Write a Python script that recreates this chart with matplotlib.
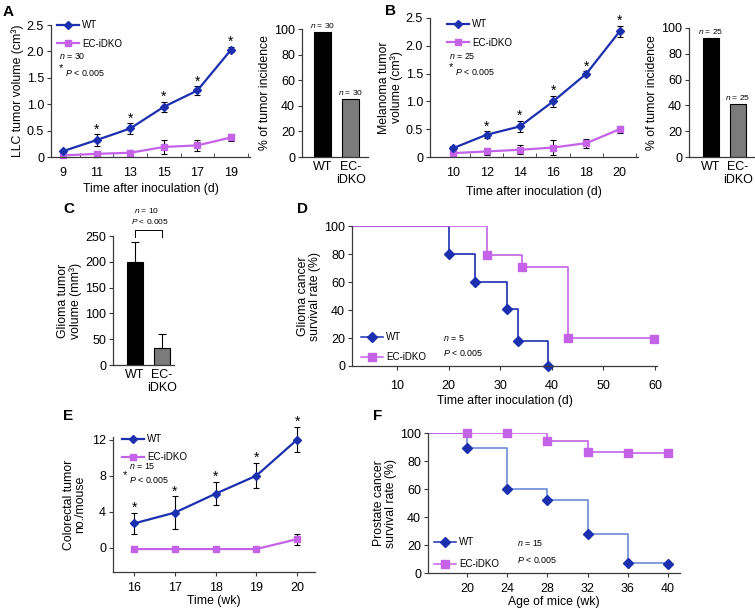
import matplotlib

matplotlib.use("Agg")
import matplotlib.pyplot as plt

plt.rcParams["font.family"] = ["Liberation Sans", "DejaVu Sans"]
plt.rcParams["mathtext.fontset"] = "custom"
plt.rcParams["mathtext.it"] = "Liberation Sans:italic"
plt.rcParams["mathtext.rm"] = "Liberation Sans"

W, H = 755, 614
WT_BLUE = "#1c2fae"
WT_LIGHT = "#6d8bd6"
EC_PINK = "#c463e8"
BAR_GRAY = "#7b7b7b"
AX_COLOR = "#3a3a3a"
TICK_FS = 9
LABEL_FS = 8.8
LEG_FS = 7
NOTE_FS = 6.4

# ---- data ----
groups = ["WT", "EC-\niDKO"]

llc_days = [9, 11, 13, 15, 17, 19]
llc_wt = [0.11, 0.32, 0.54, 0.95, 1.26, 2.03]
llc_wt_err = [0.03, 0.11, 0.10, 0.10, 0.08, 0.05]
llc_ko = [0.03, 0.06, 0.08, 0.19, 0.22, 0.37]
llc_ko_err = [0.02, 0.04, 0.06, 0.13, 0.10, 0.07]
llc_incidence = [98, 45]
llc_n = 30

mel_days = [10, 12, 14, 16, 18, 20]
mel_wt = [0.16, 0.40, 0.55, 1.00, 1.50, 2.26]
mel_wt_err = [0.04, 0.06, 0.10, 0.10, 0.04, 0.10]
mel_ko = [0.07, 0.10, 0.13, 0.17, 0.25, 0.50]
mel_ko_err = [0.04, 0.07, 0.08, 0.13, 0.08, 0.06]
mel_incidence = [92, 41]
mel_n = 25

glioma_volume = [200, 33]
glioma_err = [38, 28]

glioma_wt_t = [0, 20, 25.1, 31.3, 33.5, 39.3]
glioma_wt_s = [100, 80, 60, 41, 18, 0]
glioma_ko_t = [0, 27.5, 34.3, 43.2, 59.8]
glioma_ko_s = [100, 79, 71, 20, 19]

crc_weeks = [16, 17, 18, 19, 20]
crc_wt = [2.7, 3.9, 6.0, 8.0, 12.0]
crc_wt_err = [1.2, 1.8, 1.3, 1.4, 1.4]
crc_ko = [-0.15, -0.15, -0.15, -0.15, 0.95]
crc_ko_err = [0, 0, 0, 0, 0.6]

prostate_wt_t = [16, 20, 24, 28, 32, 36, 40]
prostate_wt_s = [100, 89, 60, 52, 28, 7, 6.5]
prostate_ko_t = [16, 20, 24, 28, 32, 36, 40]
prostate_ko_s = [100, 100, 100, 94.5, 86.5, 86, 86]

fig = plt.figure(figsize=(W / 100, H / 100), dpi=100)
fig.patch.set_facecolor("white")


def fx(x):
    return x / W


def fy(y):
    return 1 - y / H


def ax_at(x0, y0, x1, y1):
    return fig.add_axes([fx(x0), fy(y1), (x1 - x0) / W, (y1 - y0) / H])


def style(ax):
    for side in ("top", "right"):
        ax.spines[side].set_visible(False)
    for side in ("left", "bottom"):
        ax.spines[side].set_color(AX_COLOR)
        ax.spines[side].set_linewidth(0.9)
    ax.tick_params(labelsize=TICK_FS, color=AX_COLOR, length=3, width=0.8, pad=2, direction="out")


def ftext(x, y, s, **kw):
    kw.setdefault("fontsize", NOTE_FS)
    fig.text(fx(x), fy(y), s, va="center", **kw)


def legend_at(ax, x, y, spacing, handles=None, labels=None):
    args = (handles, labels) if handles else ()
    ax.legend(*args, loc="upper left", bbox_to_anchor=(fx(x), fy(y)), bbox_transform=fig.transFigure,
              frameon=False, fontsize=LEG_FS, handlelength=2.3, labelspacing=spacing, borderpad=0,
              handletextpad=0.3, borderaxespad=0)


def growth(ax, x, wt, wt_err, ko, ko_err, ms=3.8):
    ko_c = ax.errorbar(x, ko, yerr=ko_err, color=EC_PINK, lw=1.6, marker="s", ms=ms,
                       ecolor="black", elinewidth=0.8, capsize=2.2, capthick=0.8, clip_on=False)
    wt_c = ax.errorbar(x, wt, yerr=wt_err, color=WT_BLUE, lw=1.6, marker="D", ms=ms,
                       ecolor="black", elinewidth=0.8, capsize=2.2, capthick=0.8, clip_on=False)
    return [wt_c[0], ko_c[0]], ["WT", "EC-iDKO"]


def stars(ax, x, vals, errs, start=1):
    for xi, v, e in list(zip(x, vals, errs))[start:]:
        ax.annotate("*", (xi, v + e), xytext=(0, -1.5), textcoords="offset points",
                    ha="center", va="bottom", fontsize=10, annotation_clip=False)


def incidence(ax, vals, n):
    bars = ax.bar([0, 1], vals, width=0.6, color=["black", BAR_GRAY], edgecolor="black", linewidth=0.8)
    for b, v in zip(bars, vals):
        ax.text(b.get_x() + b.get_width() / 2, v + 1.5, f"$n$ = {n}", ha="center", va="bottom", fontsize=6)
    ax.set_ylim(0, 100)
    ax.set_yticks(range(0, 101, 20))
    ax.set_xticks([0, 1])
    ax.set_xticklabels(groups, fontsize=TICK_FS, linespacing=1.1)
    ax.tick_params(axis="x", length=0, pad=3)
    ax.set_ylabel("% of tumor incidence", fontsize=LABEL_FS, labelpad=2)


def survival(ax, wt_t, wt_s, ko_t, ko_s, wt_line):
    ax.plot(wt_t, wt_s, drawstyle="steps-post", color=wt_line, lw=1.2)
    ax.plot(ko_t, ko_s, drawstyle="steps-post", color=EC_PINK, lw=1.2)
    ax.plot(wt_t[1:], wt_s[1:], ls="none", marker="D", ms=5.2, color=WT_BLUE, clip_on=False)
    ax.plot(ko_t[1:], ko_s[1:], ls="none", marker="s", ms=5.8, color=EC_PINK, clip_on=False)
    ax.plot([], [], color=WT_BLUE, lw=1.1, marker="D", ms=5.2, label="WT")
    ax.plot([], [], color=EC_PINK, lw=1.1, marker="s", ms=5.8, label="EC-iDKO")
    ax.set_ylim(0, 100)
    ax.set_yticks(range(0, 101, 20))


# ---- A: LLC growth ----
ax = ax_at(51, 25, 250, 157)
style(ax)
h, l = growth(ax, llc_days, llc_wt, llc_wt_err, llc_ko, llc_ko_err)
stars(ax, llc_days, llc_wt, llc_wt_err)
ax.set_xlim(8.29, 20.13)
ax.set_ylim(0, 2.5)
ax.set_yticks([0, 0.5, 1.0, 1.5, 2.0, 2.5])
ax.set_yticklabels(["0", "0.5", "1.0", "1.5", "2.0", "2.5"])
ax.set_xticks(llc_days)
ax.set_xticks([10, 12, 14, 16, 18, 20], minor=True)
ax.tick_params(axis="x", which="major", length=0, pad=7)
ax.tick_params(axis="x", which="minor", length=3, direction="in", color=AX_COLOR)
ax.set_xlabel("Time after inoculation (d)", fontsize=LABEL_FS, labelpad=3)
ax.set_ylabel("LLC tumor volume (cm³)", fontsize=LABEL_FS, labelpad=2)
legend_at(ax, 57, 20, 0.9, h, l)
ftext(59, 56, f"$n$ = {llc_n}")
ftext(59, 68, "*", fontsize=8)
ftext(65, 73, "$P$ < 0.005")

ax = ax_at(302, 29, 368, 157)
style(ax)
incidence(ax, llc_incidence, llc_n)
ax.set_xlim(-0.72, 1.61)

# ---- B: melanoma growth ----
ax = ax_at(430, 18, 638, 157)
style(ax)
h, l = growth(ax, mel_days, mel_wt, mel_wt_err, mel_ko, mel_ko_err)
stars(ax, mel_days, mel_wt, mel_wt_err)
ax.set_xlim(8.6, 21.1)
ax.set_ylim(0, 2.5)
ax.set_yticks([0, 0.5, 1.0, 1.5, 2.0, 2.5])
ax.set_yticklabels(["0", "0.5", "1.0", "1.5", "2.0", "2.5"])
ax.set_xticks(mel_days)
ax.set_xticks([11, 13, 15, 17, 19, 21], minor=True)
ax.tick_params(axis="x", which="major", length=0, pad=7)
ax.tick_params(axis="x", which="minor", length=3, direction="in", color=AX_COLOR)
ax.set_xlabel("Time after inoculation (d)", fontsize=LABEL_FS, labelpad=5)
ax.set_ylabel("Melanoma tumor\nvolume (cm³)", fontsize=LABEL_FS, labelpad=2, linespacing=1.0)
legend_at(ax, 447, 19, 0.9, h, l)
ftext(449, 56, f"$n$ = {mel_n}")
ftext(449, 67, "*", fontsize=8)
ftext(455, 72, "$P$ < 0.005")

ax = ax_at(689, 28, 755, 157)
style(ax)
incidence(ax, mel_incidence, mel_n)
ax.set_xlim(-0.82, 1.65)

# ---- C: glioma volume ----
ax = ax_at(113, 236, 174, 365)
style(ax)
ax.bar([0, 1], glioma_volume, width=0.6, color=["black", BAR_GRAY], edgecolor="black", linewidth=0.8,
       yerr=[[0, 0], glioma_err], error_kw=dict(elinewidth=0.8, capsize=3, capthick=0.8))
ax.set_xlim(-0.82, 1.46)
ax.set_ylim(0, 250)
ax.set_yticks(range(0, 251, 50))
ax.set_xticks([0, 1])
ax.set_xticklabels(groups, fontsize=TICK_FS, linespacing=1.1)
ax.tick_params(axis="x", length=0, pad=3)
ax.set_ylabel("Glioma tumor\nvolume (mm³)", fontsize=LABEL_FS, labelpad=2, linespacing=1.0)
ax.plot([0, 0, 1, 1], [248, 262, 262, 248], color="black", lw=0.7, clip_on=False)
ftext(147, 211, "$n$ = 10", ha="center", fontsize=6)
ftext(150, 222, "$P$ < 0.005", ha="center", fontsize=6)

# ---- D: glioma survival ----
ax = ax_at(352, 226, 657, 366)
style(ax)
survival(ax, glioma_wt_t, glioma_wt_s, glioma_ko_t, glioma_ko_s, WT_BLUE)
ax.set_xlim(1.3, 60.4)
ax.set_xticks(range(10, 61, 10))
ax.tick_params(axis="x", pad=7)
ax.set_xlabel("Time after inoculation (d)", fontsize=LABEL_FS, labelpad=2)
ax.set_ylabel("Glioma cancer\nsurvival rate (%)", fontsize=LABEL_FS, labelpad=2, linespacing=1.0)
legend_at(ax, 361, 332, 1.05)
ftext(443, 338, "$n$ = 5")
ftext(443, 353, "$P$ < 0.005")

# ---- E: colorectal tumors ----
ax = ax_at(113, 437, 315, 572)
style(ax)
h, l = growth(ax, crc_weeks, crc_wt, crc_wt_err, crc_ko, crc_ko_err)
stars(ax, crc_weeks, crc_wt, crc_wt_err, start=0)
ax.set_xlim(15.48, 20.44)
ax.set_ylim(-2.7, 12.3)
ax.set_yticks([0, 4, 8, 12])
ax.set_xticks(crc_weeks)
ax.tick_params(axis="x", pad=4)
ax.set_xlabel("Time (wk)", fontsize=LABEL_FS, labelpad=1)
ax.set_ylabel("Colorectal tumor\nno./mouse", fontsize=LABEL_FS, labelpad=4, linespacing=1.0)
legend_at(ax, 122, 434, 0.85, h, l)
ftext(129, 466, "$n$ = 15")
ftext(123, 475, "*", fontsize=8)
ftext(129, 480, "$P$ < 0.005")

# ---- F: prostate survival ----
ax = ax_at(428, 433, 680, 573)
style(ax)
survival(ax, prostate_wt_t, prostate_wt_s, prostate_ko_t, prostate_ko_s, WT_LIGHT)
ax.set_xlim(16.1, 41.2)
ax.set_xticks(range(20, 41, 4))
ax.tick_params(axis="x", pad=4)
ax.set_xlabel("Age of mice (wk)", fontsize=LABEL_FS, labelpad=1)
ax.set_ylabel("Prostate cancer\nsurvival rate (%)", fontsize=LABEL_FS, labelpad=2, linespacing=1.0)
legend_at(ax, 434, 537, 1.25)
ftext(517, 543, "$n$ = 15")
ftext(517, 560, "$P$ < 0.005")

# panel letters
for letter, x, y in [("A", 3, 12), ("B", 385, 11), ("C", 63, 209), ("D", 297, 209),
                     ("E", 63, 416), ("F", 373, 416)]:
    fig.text(fx(x), fy(y), letter, fontsize=11, fontweight="bold", va="center")

fig.savefig("out.png", dpi=100, facecolor="white")
plt.close(fig)
